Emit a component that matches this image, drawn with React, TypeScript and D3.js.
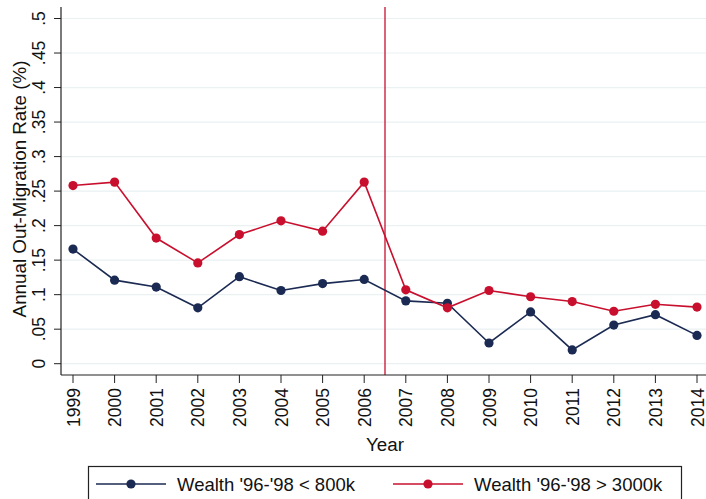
import React from "react";
import * as d3 from "d3";

const years = [1999, 2000, 2001, 2002, 2003, 2004, 2005, 2006, 2007, 2008, 2009, 2010, 2011, 2012, 2013, 2014];
const lowWealth = [0.166, 0.121, 0.111, 0.081, 0.126, 0.106, 0.116, 0.122, 0.091, 0.0875, 0.030, 0.075, 0.020, 0.056, 0.071, 0.041];
const highWealth = [0.258, 0.263, 0.182, 0.146, 0.187, 0.207, 0.192, 0.263, 0.107, 0.081, 0.106, 0.097, 0.090, 0.076, 0.086, 0.082];
const yTicks = [0, 0.05, 0.1, 0.15, 0.2, 0.25, 0.3, 0.35, 0.4, 0.45, 0.5];
const yTickLabels = ["0", ".05", ".1", ".15", ".2", ".25", ".3", ".35", ".4", ".45", ".5"];
const seriesNames = ["Wealth '96-'98 < 800k", "Wealth '96-'98 > 3000k"];
const cutYear = 2006.5;

const BLUE = "#1b2a52";
const RED = "#c8102e";
const GRID = "#e9f1f3";
const FONT = "Liberation Sans, Arial, sans-serif";

export default function App() {
  const W = 706, H = 499;
  const left = 61, right = 706, top = 7, bottom = 375;
  const x = d3.scaleLinear().domain([1999, 2014]).range([73, 697]);
  const y = d3.scaleLinear().domain([0, 0.5]).range([363.7, 18.5]);

  const line = d3.line<number>().x((_, i) => x(years[i])).y((d) => y(d));

  const series = [
    { vals: lowWealth, color: BLUE },
    { vals: highWealth, color: RED },
  ];

  return (
    <svg width={W} height={H} style={{ position: "absolute", left: 0, top: 0, background: "#fff" }} fontFamily={FONT}>
      <rect x={0} y={0} width={W} height={H} fill="#fff" />
      {/* grid */}
      {yTicks.map((t) => (
        <line key={"g" + t} x1={left} x2={right} y1={y(t)} y2={y(t)} stroke={GRID} strokeWidth={1.2} />
      ))}
      {/* cut line */}
      <line x1={x(cutYear)} x2={x(cutYear)} y1={top} y2={bottom} stroke={RED} strokeWidth={1.3} />
      {/* series */}
      {series.map((s, si) => (
        <g key={"s" + si}>
          <path d={line(s.vals) || ""} fill="none" stroke={s.color} strokeWidth={1.6} />
          {s.vals.map((v, i) => (
            <circle key={i} cx={x(years[i])} cy={y(v)} r={4.6} fill={s.color} />
          ))}
        </g>
      ))}
      {/* axes */}
      <line x1={left} x2={left} y1={top} y2={bottom} stroke="#222" strokeWidth={1.2} />
      <line x1={left} x2={right} y1={bottom} y2={bottom} stroke="#222" strokeWidth={1.2} />
      {yTicks.map((t, i) => (
        <g key={"yt" + t}>
          <line x1={left - 7} x2={left} y1={y(t)} y2={y(t)} stroke="#222" strokeWidth={1} />
          <text
            transform={`translate(${45},${y(t)}) rotate(-90)`}
            textAnchor="middle"
            fontSize={17.5}
            fill="#111"
          >
            {yTickLabels[i]}
          </text>
        </g>
      ))}
      {years.map((yr) => (
        <g key={"xt" + yr}>
          <line x1={x(yr)} x2={x(yr)} y1={bottom} y2={bottom + 8} stroke="#222" strokeWidth={1} />
          <text
            transform={`translate(${x(yr) + 6.5},${bottom + 13}) rotate(-90)`}
            textAnchor="end"
            fontSize={17.5}
            fill="#111"
          >
            {yr}
          </text>
        </g>
      ))}
      <text x={x(cutYear)} y={450.5} textAnchor="middle" fontSize={18.8} fill="#111">
        Year
      </text>
      <text
        transform={`translate(${26},${189}) rotate(-90)`}
        textAnchor="middle"
        fontSize={18.8}
        fill="#111"
      >
        Annual Out-Migration Rate (%)
      </text>
      {/* legend */}
      <rect x={88.5} y={466.5} width={593} height={50} fill="#fff" stroke="#222" strokeWidth={1.2} />
      {[
        { lx: 96, tx: 177, color: BLUE, name: seriesNames[0] },
        { lx: 393, tx: 474, color: RED, name: seriesNames[1] },
      ].map((l, i) => (
        <g key={"l" + i}>
          <line x1={l.lx} x2={l.lx + 70} y1={484} y2={484} stroke={l.color} strokeWidth={1.6} />
          <circle cx={l.lx + 35} cy={484} r={4.6} fill={l.color} />
          <text x={l.tx} y={490.5} fontSize={18.5} fill="#111">
            {l.name}
          </text>
        </g>
      ))}
    </svg>
  );
}
